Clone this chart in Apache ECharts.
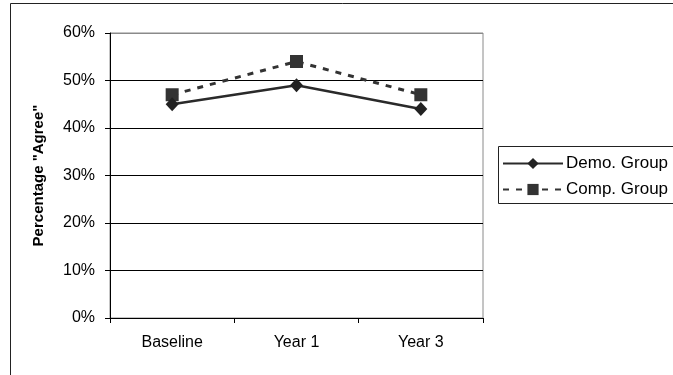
<!DOCTYPE html>
<html>
<head>
<meta charset="utf-8">
<script src="https://cdn.jsdelivr.net/npm/echarts@6/dist/echarts.min.js"></script>
<style>
  html, body { margin: 0; padding: 0; background: #fff; }
  #chart { width: 673px; height: 375px; }
</style>
</head>
<body>
<div id="chart"></div>
<script>
// Survey results: share answering "Agree", by group and time point
const categories = ['Baseline', 'Year 1', 'Year 3'];
const demoGroup = [45, 49, 44];
const compGroup = [47, 54, 47];
const yTicks = [0, 10, 20, 30, 40, 50, 60];

const chart = echarts.init(document.getElementById('chart'));
const font = 'Arial, "Liberation Sans", sans-serif';

chart.setOption({
  animation: false,
  backgroundColor: '#fff',
  graphic: [
    {
      // outer chart frame, running off the right and bottom edges
      type: 'rect',
      shape: { x: 10.5, y: 3.5, width: 700, height: 400 },
      style: { fill: 'none', stroke: '#222', lineWidth: 1 },
      silent: true,
      z: -1
    },
    {
      // legend frame, also running off the right edge
      type: 'rect',
      shape: { x: 498.5, y: 146.5, width: 300, height: 57 },
      style: { fill: 'none', stroke: '#222', lineWidth: 1 },
      silent: true,
      z: 5
    }
  ],
  grid: {
    left: 110, top: 33, right: 190, bottom: 57,
    show: true, borderColor: '#8a8a8a', borderWidth: 1,
    backgroundColor: 'transparent'
  },
  legend: {
    orient: 'vertical',
    left: 498, top: 146,
    padding: [9, 10, 6, 4],
    itemWidth: 60, itemHeight: 14, itemGap: 9,
    textStyle: { fontFamily: font, fontSize: 17, color: '#000', padding: [0, 0, 0, -2] },
    data: ['Demo. Group', 'Comp. Group']
  },
  xAxis: {
    type: 'category',
    data: categories,
    boundaryGap: true,
    axisLine: { lineStyle: { color: '#000', width: 1 } },
    axisTick: { show: true, length: 5, inside: false, lineStyle: { color: '#000' } },
    axisLabel: { fontFamily: font, fontSize: 16, color: '#000', margin: 17 },
    splitLine: { show: false }
  },
  yAxis: {
    type: 'value',
    min: yTicks[0], max: yTicks[yTicks.length - 1], interval: 10,
    name: 'Percentage "Agree"',
    nameLocation: 'middle',
    nameGap: 64,
    nameRotate: 90,
    nameTextStyle: { fontFamily: font, fontSize: 15, fontWeight: 'bold', color: '#000' },
    axisLine: { show: true, lineStyle: { color: '#000', width: 1 } },
    axisTick: { show: true, length: 5, lineStyle: { color: '#000' } },
    axisLabel: { fontFamily: font, fontSize: 16, color: '#000', margin: 15, formatter: '{value}%' },
    splitLine: { show: true, lineStyle: { color: ['#000', '#000', '#000', '#000', '#000', '#000', '#8a8a8a'], width: 1 } }
  },
  series: [
    {
      name: 'Demo. Group',
      type: 'line',
      data: demoGroup,
      symbol: 'diamond',
      symbolSize: [13, 14],
      itemStyle: { color: '#222' },
      lineStyle: { color: '#2a2a2a', width: 2.5 },
      z: 3
    },
    {
      name: 'Comp. Group',
      type: 'line',
      data: compGroup,
      symbol: 'rect',
      symbolSize: 13,
      itemStyle: { color: '#333' },
      lineStyle: { color: '#333', width: 3, type: [6, 7] },
      z: 2
    }
  ]
});
</script>
</body>
</html>
